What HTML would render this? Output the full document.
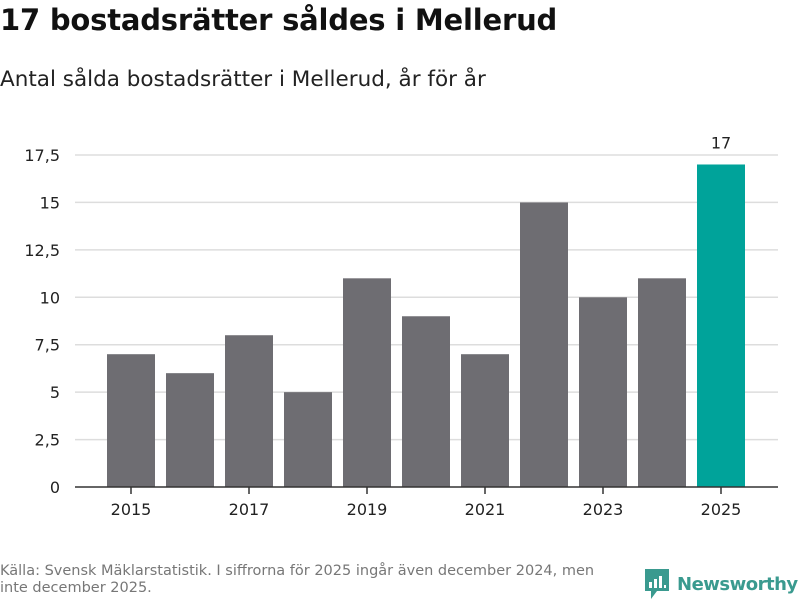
<!DOCTYPE html>
<html><head><meta charset="utf-8"><style>
body{margin:0;width:800px;height:600px;background:#fff;font-family:"DejaVu Sans","Liberation Sans",sans-serif;overflow:hidden;position:relative}
h1{position:absolute;left:0;top:3px;margin:0;font-size:29px;font-weight:bold;color:#111;letter-spacing:-0.2px}
.sub{position:absolute;left:0;top:67px;font-size:21.5px;color:#222;letter-spacing:0px}
.src{position:absolute;left:0;top:563px;font-size:14.5px;color:#777;line-height:17px;width:622px}
.logo{position:absolute;left:645px;top:569px;display:flex;align-items:center;color:#3a9a8f;font-size:18px;font-weight:bold;letter-spacing:-0.5px}
</style></head><body>
<h1>17 bostadsrätter såldes i Mellerud</h1>
<div class="sub">Antal sålda bostadsrätter i Mellerud, år för år</div>
<svg id="c" width="800" height="600" style="position:absolute;left:0;top:0"></svg>
<div class="src">Källa: Svensk Mäklarstatistik. I siffrorna för 2025 ingår även december 2024, men inte december 2025.</div>
<div class="logo"><svg width="24" height="30" viewBox="0 0 24 30"><path d="M0 0H24V22H12L6 30V22H0Z" fill="#3a9a8f"/><rect x="4" y="13" width="3" height="6" fill="#fff"/><rect x="9" y="10" width="3" height="9" fill="#fff"/><rect x="14" y="7" width="3" height="12" fill="#fff"/><rect x="19" y="16" width="2" height="3" fill="#fff"/></svg><span style="margin-left:8px">Newsworthy</span></div>
<script>
const years=[2015,2016,2017,2018,2019,2020,2021,2022,2023,2024,2025];
const values=[7,6,8,5,11,9,7,15,10,11,17];
const yTicks=[0,2.5,5,7.5,10,12.5,15,17.5];
const yLabels=["0","2,5","5","7,5","10","12,5","15","17,5"];
const svg=document.getElementById('c');const NS='http://www.w3.org/2000/svg';
const x0=75,x1=778,yb=487,yt=155,ymax=17.5;
const bandStart=101.5,bandEnd=750.5;
const y=v=>yb-(v/ymax)*(yb-yt);
const step=(bandEnd-bandStart)/years.length;
const xc=i=>bandStart+step*(i+0.5);
function mk(t,a){const e=document.createElementNS(NS,t);for(const k in a)e.setAttribute(k,a[k]);svg.appendChild(e);return e;}
yTicks.forEach((t,i)=>{
 if(t>0){const g=mk('line',{x1:x0,x2:x1,y1:y(t),y2:y(t),stroke:'#ddd','stroke-width':1.5});
 
 }
 const l=mk('text',{x:60,y:y(t)+6,'text-anchor':'end','font-size':16,fill:'#222'});l.textContent=yLabels[i];
 
 
});
years.forEach((yr,i)=>{
 const v=values[i];const last=i===years.length-1;
 const b=mk('rect',{x:xc(i)-24,y:y(v),width:48,height:yb-y(v),fill:last?'#00a39a':'#6e6d72'});
 
 
 if(last){const t=mk('text',{x:xc(i),y:y(v)-16,'text-anchor':'middle','font-size':16,fill:'#222'});t.textContent=v;
 
 }
 if(i%2===0){mk('line',{x1:xc(i),x2:xc(i),y1:yb,y2:yb+7,stroke:'#333','stroke-width':1.5});
 const t=mk('text',{x:xc(i),y:yb+28,'text-anchor':'middle','font-size':16,fill:'#222'});t.textContent=yr;
 
 }
});
const ax=mk('line',{x1:x0,x2:x1,y1:yb,y2:yb,stroke:'#333','stroke-width':1.5});


</script>
</body></html>
